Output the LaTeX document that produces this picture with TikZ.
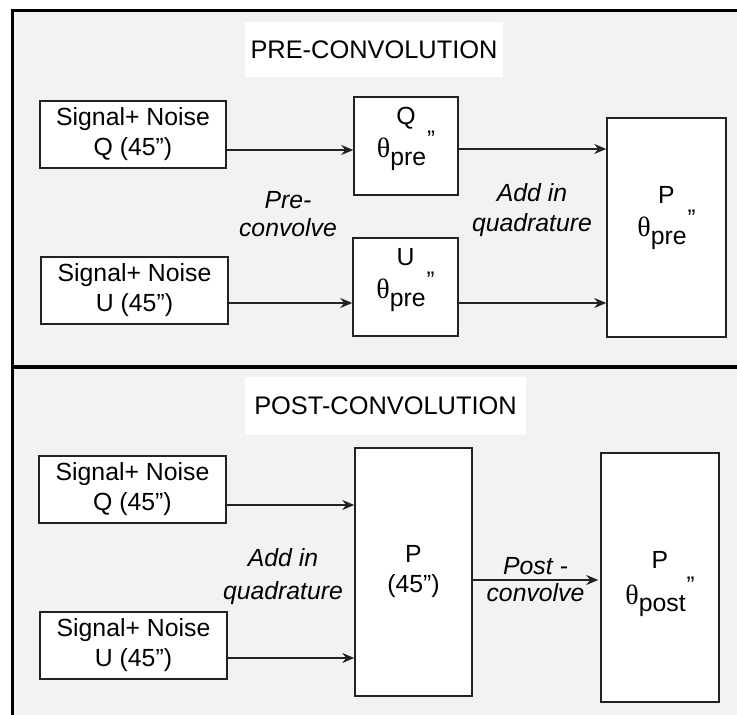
\documentclass[tikz,border=0pt]{standalone}
\usepackage{fontspec}
\setmainfont{Liberation Sans}
\newfontfamily\greekfont{Liberation Serif}
\usetikzlibrary{arrows.meta}

\definecolor{panelgray}{HTML}{F2F2F2}
\definecolor{linegray}{HTML}{222222}

\newcommand\thetares[1]{{\greekfont\fontsize{14}{15}\selectfont θ}\raisebox{-0.55ex}{#1}\hspace{0.5pt}\raisebox{0.8ex}{\fontsize{12}{12}\selectfont ”}}

\tikzset{
    box/.style={draw=linegray, line width=0.75pt, fill=white, inner sep=0pt},
    txt/.style={align=center, font=\fontsize{12.4}{15}\selectfont},
    note/.style={align=center, font=\fontsize{12.4}{15}\selectfont\itshape},
    headline/.style={fill=white, inner sep=0pt, font=\fontsize{12.7}{15}\selectfont},
    arr/.style={draw=linegray, line width=1pt, -{Stealth[length=6pt,width=5pt,inset=2pt]}},
    panel/.style={draw=black, line width=1.5pt, fill=panelgray}
}

\begin{document}
\begin{tikzpicture}[x=0.5pt,y=-0.5pt]
                \useasboundingbox (0,0) rectangle (737,715);
                \clip (0,0) rectangle (737,715);
                \draw[panel] (12,11) rectangle (760,367);
                \draw[panel] (12,367) rectangle (760,740);
                % pre-convolution
                \node[headline, minimum width=129pt, minimum height=27.5pt] (pretitle) at (374,49.5) {PRE-CONVOLUTION};
                \node[box, txt, minimum width=93pt, minimum height=33.5pt] (sigQa) at (133,134.5) {Signal+ Noise\\Q (45”)};
                \node[box, txt, minimum width=93.5pt, minimum height=33.5pt] (sigUa) at (134.5,290.5) {Signal+ Noise\\U (45”)};
                \node[box, minimum width=52pt, minimum height=49pt] (Qpre) at (406,146) {};
                \node[box, minimum width=52.5pt, minimum height=49pt] (Upre) at (405.5,287) {};
                \node[box, minimum width=59.5pt, minimum height=109.5pt] (Ppre) at (666.5,227.5) {};
                \node[txt, font=\fontsize{12.4}{16.5}\selectfont] (Qprelab) at (406,139) {Q\\\thetares{pre}};
                \node[txt, font=\fontsize{12.4}{16.5}\selectfont] (Uprelab) at (405.5,280) {U\\\thetares{pre}};
                \node[txt, font=\fontsize{12.4}{16.5}\selectfont] (Pprelab) at (666.5,218) {P\\\thetares{pre}};
                \node[note, font=\fontsize{12.4}{14}\selectfont\itshape] (preconv) at (288,214) {Pre-\\convolve};
                \node[note] (addtop) at (532,210) {Add in\\quadrature};
                \draw[arr] ([yshift=-7.75pt]sigQa.east) coordinate (qa) -- (qa -| Qpre.west);
                \draw[arr] ([yshift=-6.25pt]sigUa.east) coordinate (ua) -- (ua -| Upre.west);
                \draw[arr] ([yshift=-1.5pt]Qpre.east) coordinate (qp) -- (qp -| Ppre.west);
                \draw[arr] ([yshift=-8pt]Upre.east) coordinate (up) -- (up -| Ppre.west);
                % post-convolution
                \node[headline, minimum width=140.5pt, minimum height=29pt] (posttitle) at (385.5,406) {POST-CONVOLUTION};
                \node[box, txt, minimum width=93.5pt, minimum height=33.5pt] (sigQb) at (132.5,489.5) {Signal+ Noise\\Q (45”)};
                \node[box, txt, minimum width=93.5pt, minimum height=33.5pt] (sigUb) at (133.5,645.5) {Signal+ Noise\\U (45”)};
                \node[box, minimum width=58.5pt, minimum height=124pt] (Pmid) at (413.5,572) {};
                \node[box, minimum width=59pt, minimum height=124.5pt] (Ppost) at (660,577.5) {};
                \node[txt] (Pmidlab) at (413.5,572) {P\\(45”)};
                \node[txt, font=\fontsize{12.4}{18}\selectfont] (Ppostlab) at (660,584) {P\\\thetares{post}};
                \node[note, font=\fontsize{12.4}{16.5}\selectfont\itshape] (addbot) at (283,577) {Add in\\quadrature};
                \draw[arr] ([yshift=-7.75pt]sigQb.east) coordinate (qb) -- (qb -| Pmid.west);
                \draw[arr] ([yshift=-6.25pt]sigUb.east) coordinate (ub) -- (ub -| Pmid.west);
                \draw[arr] ([yshift=-4pt]Pmid.east) coordinate (pm) -- node[note, above, inner sep=2pt] (postA) {Post -}
                    node[note, below, inner sep=1.5pt] (postB) {convolve} ([xshift=-1pt]pm -| Ppost.west);
            \end{tikzpicture}
\end{document}
